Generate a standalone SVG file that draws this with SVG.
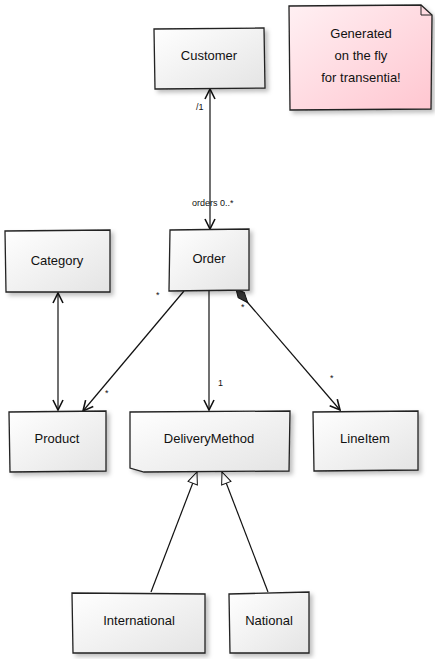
<svg xmlns="http://www.w3.org/2000/svg" width="435" height="659" viewBox="0 0 435 659">
<defs>
<linearGradient id="g" x1="0" y1="0" x2="1" y2="1">
<stop offset="0" stop-color="#ffffff"/>
<stop offset="1" stop-color="#e4e4e4"/>
</linearGradient>
<linearGradient id="gn" x1="0" y1="0" x2="1" y2="1">
<stop offset="0" stop-color="#fff0f3"/>
<stop offset="1" stop-color="#ffc6d0"/>
</linearGradient>
<filter id="sh" x="-10%" y="-10%" width="130%" height="130%">
<feDropShadow dx="3" dy="3" stdDeviation="2" flood-color="#000" flood-opacity="0.25"/>
</filter>
<marker id="open" viewBox="0 0 12 12" refX="11" refY="6" markerWidth="12" markerHeight="12" markerUnits="userSpaceOnUse" orient="auto-start-reverse">
<path d="M1,1 L11,6 L1,11" fill="none" stroke="#111" stroke-width="1.6"/>
</marker>
<marker id="tri" viewBox="0 0 14 12" refX="13" refY="6" markerWidth="14" markerHeight="12" markerUnits="userSpaceOnUse" orient="auto">
<path d="M1,1 L13,6 L1,11 Z" fill="#fff" stroke="#111" stroke-width="1"/>
</marker>
<marker id="dia" viewBox="0 0 20 10" refX="1" refY="5" markerWidth="20" markerHeight="10" markerUnits="userSpaceOnUse" orient="auto">
<path d="M1,5 L9,1 L19,5 L9,9 Z" fill="#333" stroke="#111" stroke-width="1"/>
</marker>
</defs>
<style>
.box{fill:url(#g);stroke:#222;stroke-width:1.3;filter:url(#sh)}
.note{fill:url(#gn);stroke:#222;stroke-width:1.3;filter:url(#sh)}
.t{font-family:"Liberation Sans",Arial,sans-serif;font-size:13px;fill:#111;text-anchor:middle}
.l{font-family:"Liberation Sans",Arial,sans-serif;font-size:9px;fill:#111}
.c{fill:none;stroke:#111;stroke-width:1.2}
</style>
<g id="connectors">
<line class="c" x1="210" y1="89" x2="210" y2="229" marker-start="url(#open)" marker-end="url(#open)"/>
<line class="c" x1="58" y1="293" x2="58" y2="410" marker-start="url(#open)" marker-end="url(#open)"/>
<line class="c" x1="184" y1="291" x2="83" y2="411" marker-end="url(#open)"/>
<line class="c" x1="209" y1="291" x2="209" y2="410" marker-end="url(#open)"/>
<line class="c" x1="236" y1="289" x2="340" y2="410" marker-start="url(#dia)" marker-end="url(#open)"/>
<line class="c" x1="151" y1="592" x2="197" y2="472" marker-end="url(#tri)"/>
<line class="c" x1="268" y1="592" x2="222" y2="472" marker-end="url(#tri)"/>
<text class="l" x="196" y="110">/1</text>
<text class="l" x="192" y="206">orders 0..*</text>
<text class="l" x="156" y="298">*</text>
<text class="l" x="105" y="396">*</text>
<text class="l" x="218" y="386">1</text>
<text class="l" x="241" y="310">*</text>
<text class="l" x="330" y="381">*</text>
</g>
<g id="customer">
<path class="box" d="M154,29 L264,28 L265,88 L155,89 Z"/>
<text class="t" x="209" y="60">Customer</text>
</g>
<g id="note">
<path class="note" d="M289,6 L421,5 L432,15 L431,109 L290,110 Z"/>
<path d="M421,5 L421,15 L432,15" fill="none" stroke="#222" stroke-width="1"/>
<text class="t" x="361" y="38">Generated</text>
<text class="t" x="361" y="60">on the fly</text>
<text class="t" x="361" y="82">for transentia!</text>
</g>
<g id="category">
<path class="box" d="M5,231 L110,230 L110,292 L6,292 Z"/>
<text class="t" x="57" y="265">Category</text>
</g>
<g id="order">
<path class="box" d="M170,230 L249,229 L249,290 L169,291 Z"/>
<text class="t" x="209" y="263">Order</text>
</g>
<g id="product">
<path class="box" d="M9,412 L106,411 L106,471 L10,472 Z"/>
<text class="t" x="57" y="443">Product</text>
</g>
<g id="deliverymethod">
<path class="box" d="M130,412 L290,411 L289,471 L144,472 L130,468 Z"/>
<text class="t" x="209" y="443">DeliveryMethod</text>
</g>
<g id="lineitem">
<path class="box" d="M313,412 L418,411 L418,470 L314,471 Z"/>
<text class="t" x="365" y="443">LineItem</text>
</g>
<g id="international">
<path class="box" d="M72,593 L205,594 L205,653 L73,653 Z"/>
<text class="t" x="139" y="625">International</text>
</g>
<g id="national">
<path class="box" d="M229,594 L309,592 L309,653 L230,653 Z"/>
<text class="t" x="269" y="625">National</text>
</g>
</svg>
